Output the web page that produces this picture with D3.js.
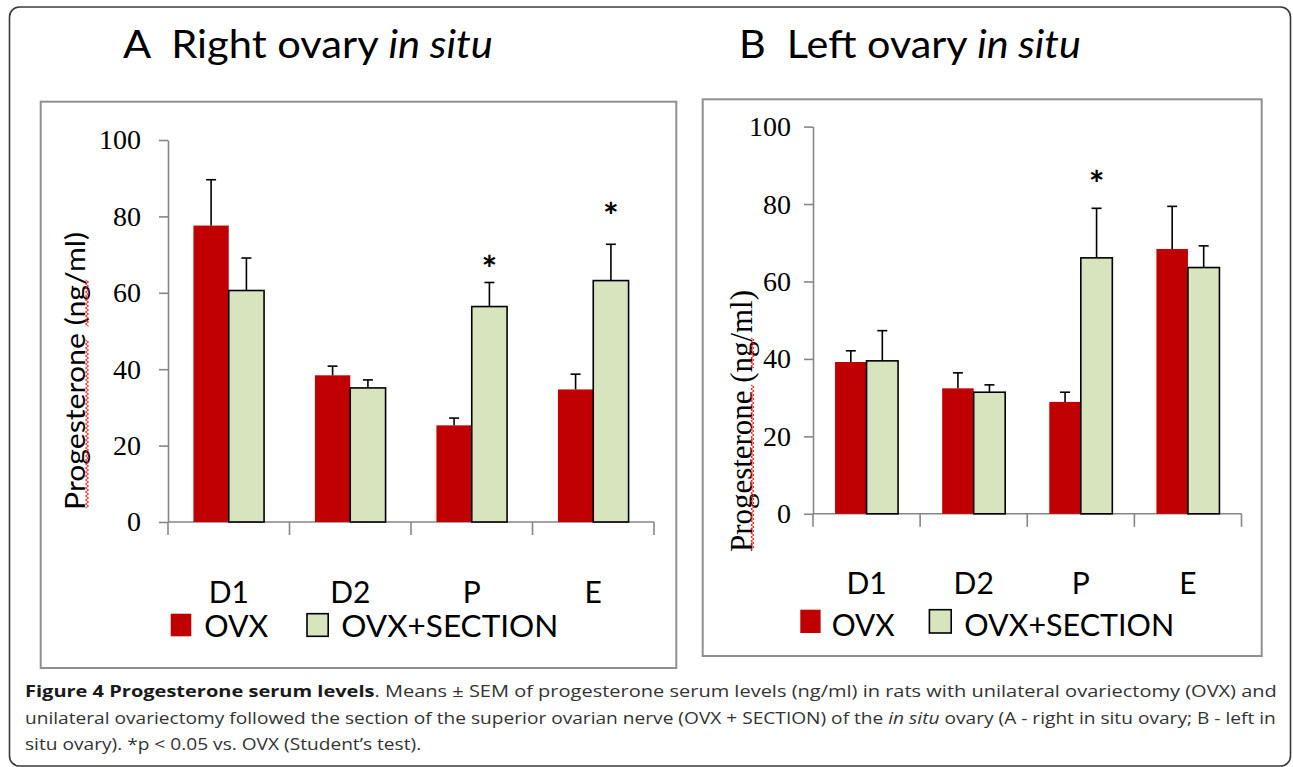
<!DOCTYPE html>
<html><head><meta charset="utf-8">
<script src="https://cdn.jsdelivr.net/npm/d3@7"></script>
<style>body{margin:0;background:#fff}svg{display:block}</style>
</head><body>
<svg id="c" width="1293" height="767"></svg>
<script>
// ---------- data ----------
const categories = ["D1", "D2", "P", "E"];
const seriesNames = ["OVX", "OVX+SECTION"];
const yTicks = [0, 20, 40, 60, 80, 100];

// Panel A: right ovary in situ (means and SEM, ng/ml)
const rightOVX = [77.6, 38.4, 25.3, 34.7];
const rightOVXSem = [12.0, 2.4, 1.9, 4.0];
const rightSection = [60.6, 35.1, 56.4, 63.2];
const rightSectionSem = [8.5, 2.1, 6.3, 9.5];
const rightStarAt = [null, null, 68, 82];

// Panel B: left ovary in situ
const leftOVX = [39.2, 32.4, 28.9, 68.4];
const leftOVXSem = [2.9, 4.0, 2.5, 11.0];
const leftSection = [39.5, 31.4, 66.1, 63.6];
const leftSectionSem = [7.8, 1.9, 12.8, 5.6];
const leftStarAt = [null, null, 87, null];

const colors = ["#c00000", "#d7e4bd"];

// ---------- drawing ----------
const svg = d3.select("#c");
const SANS = "Lato, 'Open Sans', sans-serif";
const SERIF = "'Liberation Serif', 'Times New Roman', serif";

function fitText(sel, w) {
  const n = sel.node().getComputedTextLength();
  return n > 0 ? w / n : 1;
}

svg.append("rect").attr("x", 9.5).attr("y", 7).attr("width", 1281).attr("height", 759)
  .attr("rx", 10).attr("fill", "none").attr("stroke", "#3a3a3a").attr("stroke-width", 1.6);

function wavy(x, ya, yb) {
  const pts = [];
  let k = 0;
  for (let y = ya; y <= yb; y += 2, k++) pts.push([x + (k % 2 ? 1.6 : -1.6), y]);
  svg.append("path").attr("d", d3.line()(pts)).attr("fill", "none")
    .attr("stroke", "#ff1a1a").attr("stroke-width", 1);
}

function panel(cfg) {
  svg.append("rect").attr("x", cfg.frame[0]).attr("y", cfg.frame[1])
    .attr("width", cfg.frame[2]).attr("height", cfg.frame[3])
    .attr("fill", "none").attr("stroke", "#8f8f8f").attr("stroke-width", 2);

  const t = svg.append("text").attr("font-family", SANS).attr("font-size", 39)
    .attr("fill", "#000").style("white-space", "pre");
  t.append("tspan").text(cfg.title);
  t.append("tspan").attr("font-style", "italic").text("in situ");
  const s = fitText(t, cfg.titleW);
  t.attr("transform", `translate(${cfg.titleX},58) scale(${s},1)`);

  const x = d3.scaleBand().domain(categories).range([cfg.x0, cfg.x1]).paddingInner(0).paddingOuter(0);
  const x1 = d3.scaleBand().domain(seriesNames).range([0, x.bandwidth()]).paddingInner(0).paddingOuter(cfg.po);
  const y = d3.scaleLinear().domain([0, 100]).range([cfg.y0, cfg.y1]);

  const ya = svg.append("g").attr("transform", `translate(${cfg.x0},0)`)
    .call(d3.axisLeft(y).tickValues(yTicks).tickSize(9).tickSizeOuter(0).tickPadding(cfg.tickPad));
  ya.select(".domain").attr("stroke", "#868686").attr("stroke-width", 1.6);
  ya.selectAll(".tick line").attr("stroke", "#868686").attr("stroke-width", 1.6);
  ya.selectAll(".tick text").attr("font-family", SERIF).attr("font-size", 28).attr("fill", "#000");

  const xa = svg.append("g");
  xa.append("line").attr("x1", cfg.x0).attr("x2", cfg.x1).attr("y1", y(0)).attr("y2", y(0))
    .attr("stroke", "#868686").attr("stroke-width", 1.6);
  const bounds = categories.map(c => x(c)).concat([x(categories[categories.length - 1]) + x.bandwidth()]);
  xa.selectAll("line.tk").data(bounds).join("line").attr("class", "tk")
    .attr("x1", d => d).attr("x2", d => d).attr("y1", y(0)).attr("y2", y(0) + 13)
    .attr("stroke", "#868686").attr("stroke-width", 1.6);
  xa.selectAll("text").data(categories).join("text")
    .attr("x", d => x(d) + x.bandwidth() / 2).attr("y", cfg.catY)
    .attr("text-anchor", "middle").attr("font-family", SANS).attr("font-size", 30).attr("fill", "#000")
    .text(d => d);

  const series = [
    { name: seriesNames[0], vals: cfg.ovx, sem: cfg.ovxSem, color: colors[0], stroke: "none" },
    { name: seriesNames[1], vals: cfg.sec, sem: cfg.secSem, color: colors[1], stroke: "#000" }
  ];
  series.forEach(sr => {
    const g = svg.append("g");
    g.selectAll("rect").data(categories).join("rect")
      .attr("x", (c) => x(c) + x1(sr.name))
      .attr("width", x1.bandwidth())
      .attr("y", (c, i) => y(sr.vals[i]))
      .attr("height", (c, i) => y(0) - y(sr.vals[i]))
      .attr("fill", sr.color).attr("stroke", sr.stroke).attr("stroke-width", 1.6);
    categories.forEach((c, i) => {
      const cx = x(c) + x1(sr.name) + x1.bandwidth() / 2;
      const top = y(sr.vals[i] + sr.sem[i]);
      g.append("line").attr("x1", cx).attr("x2", cx).attr("y1", y(sr.vals[i])).attr("y2", top)
        .attr("stroke", "#000").attr("stroke-width", 1.6);
      g.append("line").attr("x1", cx - 5).attr("x2", cx + 5).attr("y1", top).attr("y2", top)
        .attr("stroke", "#000").attr("stroke-width", 1.6);
    });
  });

  categories.forEach((c, i) => {
    if (cfg.stars[i] == null) return;
    svg.append("text").attr("x", x(c) + x1(seriesNames[1]) + x1.bandwidth() / 2)
      .attr("y", y(cfg.stars[i]) + 20).attr("text-anchor", "middle")
      .attr("font-family", SANS).attr("font-size", 37).attr("font-weight", "bold").attr("fill", "#000").text("*");
  });

  const yl = svg.append("text").attr("text-anchor", "middle")
    .attr("font-family", cfg.ylFont).attr("font-size", cfg.ylSize).attr("fill", "#000")
    .text("Progesterone (ng/ml)");
  const sy = fitText(yl, cfg.ylW);
  yl.attr("transform", `translate(${cfg.ylX},${cfg.ylY}) rotate(-90) scale(${sy},1)`);
  cfg.waves.forEach(w => wavy(cfg.waveX, w[0], w[1]));

  cfg.legend.forEach((L, i) => {
    svg.append("rect").attr("x", L.sx).attr("y", cfg.legY).attr("width", L.sw).attr("height", cfg.legH)
      .attr("fill", colors[i]).attr("stroke", i ? "#000" : "none").attr("stroke-width", 1.6);
    const lt = svg.append("text").attr("font-family", SANS).attr("font-size", 31).attr("fill", "#000")
      .text(seriesNames[i]);
    const k = fitText(lt, L.tw);
    lt.attr("transform", `translate(${L.tx},${cfg.legBase}) scale(${k},1)`);
  });
}

panel({
  frame: [40.7, 101.7, 635.6, 566.3],
  title: "A  Right ovary ", titleX: 123, titleW: 370,
  x0: 168, x1: 654, y0: 522, y1: 140, po: 0.72, tickPad: 18, catY: 603,
  ovx: rightOVX, ovxSem: rightOVXSem, sec: rightSection, secSem: rightSectionSem, stars: rightStarAt,
  ylFont: SANS, ylSize: 27, ylX: 85, ylY: 371, ylW: 278, waveX: 87, waves: [[280, 327], [340, 508]],
  legY: 613.7, legH: 22.6, legBase: 637,
  legend: [{ sx: 170.7, sw: 20.6, tx: 204.3, tw: 64 }, { sx: 307, sw: 21.2, tx: 341.3, tw: 217 }]
});

panel({
  frame: [702.7, 99.3, 559, 556.7],
  title: "B  Left ovary ", titleX: 739, titleW: 342,
  x0: 813, x1: 1241.5, y0: 513.8, y1: 126.6, po: 0.7, tickPad: 13, catY: 594,
  ovx: leftOVX, ovxSem: leftOVXSem, sec: leftSection, secSem: leftSectionSem, stars: leftStarAt,
  ylFont: SERIF, ylSize: 31, ylX: 752, ylY: 421, ylW: 262, waveX: 752.5, waves: [[338, 368], [385, 550]],
  legY: 609.7, legH: 23.3, legBase: 635.5,
  legend: [{ sx: 800.3, sw: 20.3, tx: 831.8, tw: 63 }, { sx: 929.4, sw: 21.8, tx: 964.3, tw: 210 }]
});

// caption: lines 1-2 fitted to the full width, last line uses the same compression
const capLines = [
  { y: 697, w: 1253, parts: [["Figure 4 Progesterone serum levels", "bold", "normal"],
    [". Means ± SEM of progesterone serum levels (ng/ml) in rats with unilateral ovariectomy (OVX) and", "normal", "normal"]] },
  { y: 723.5, w: 1251, parts: [["unilateral ovariectomy followed the section of the superior ovarian nerve (OVX + SECTION) of the ", "normal", "normal"],
    ["in situ", "normal", "italic"], [" ovary (A - right in situ ovary; B - left in", "normal", "normal"]] },
  { y: 750, w: null, parts: [["situ ovary). *p < 0.05 vs. OVX (Student’s test).", "normal", "normal"]] }
];
const CAPFONT = "'Open Sans', sans-serif";
let lastK = 1;
capLines.forEach(L => {
  const t = svg.append("text").attr("font-family", CAPFONT).attr("font-size", 16.5)
    .attr("fill", "#333").style("white-space", "pre");
  L.parts.forEach(p => t.append("tspan").attr("font-weight", p[1]).attr("font-style", p[2])
    .attr("fill", p[1] === "bold" ? "#1a1a1a" : "#333").text(p[0]));
  const w = t.node().getComputedTextLength();
  const k = L.w ? L.w / w : lastK;
  lastK = k;
  t.attr("transform", `translate(25,${L.y}) scale(${k},1)`);
});
</script>
</body></html>
